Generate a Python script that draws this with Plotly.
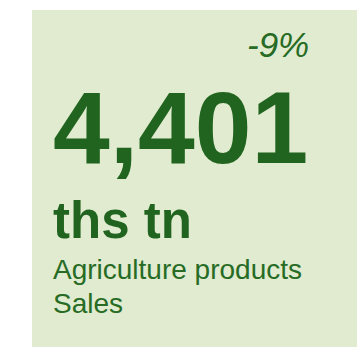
import plotly.graph_objects as go

# KPI card content
kpi_value = 4401
kpi_delta_pct = -9
kpi_unit = "ths tn"
kpi_label_lines = ["Agriculture products", "Sales"]

W, H = 357, 347
CARD_BG = "#E0EBCF"
TEXT_DARK = "#21641F"
TEXT_MID = "#276B25"
FONT = "Liberation Sans, Arial, sans-serif"


def px(x):
    return x / W


def py(y):
    return 1 - y / H


fig = go.Figure()

# card background
fig.add_shape(type="rect", xref="paper", yref="paper",
              x0=px(32), x1=px(W + 5), y0=py(H + 5), y1=py(10),
              fillcolor=CARD_BG, line=dict(width=0), layer="below")

ann = []
ann.append(dict(text=f"<i>{kpi_delta_pct}%</i>", x=px(311), y=py(44),
                xanchor="right", yanchor="middle",
                font=dict(family=FONT, size=35, color=TEXT_MID)))
ann.append(dict(text=f"<b>{kpi_value:,}</b>", x=px(51), y=py(128),
                xanchor="left", yanchor="middle",
                font=dict(family=FONT, size=102, color=TEXT_DARK)))
ann.append(dict(text=f"<b>{kpi_unit}</b>", x=px(51), y=py(221),
                xanchor="left", yanchor="middle",
                font=dict(family=FONT, size=51, color=TEXT_DARK)))
for i, line in enumerate(kpi_label_lines):
    ann.append(dict(text=line, x=px(51), y=py(269 + 34 * i),
                    xanchor="left", yanchor="middle",
                    font=dict(family=FONT, size=28, color=TEXT_MID)))

for a in ann:
    a.update(xref="paper", yref="paper", showarrow=False)

fig.update_layout(
    width=W, height=H,
    margin=dict(l=0, r=0, t=0, b=0),
    paper_bgcolor="white", plot_bgcolor="white",
    xaxis=dict(visible=False), yaxis=dict(visible=False),
    annotations=ann,
    showlegend=False,
)

fig.write_html("out.html", config={"displayModeBar": False})
